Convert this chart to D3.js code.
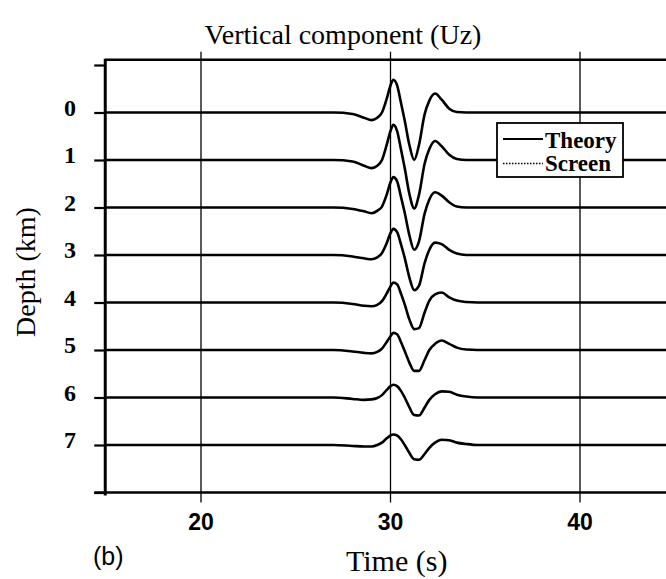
<!DOCTYPE html>
<html><head><meta charset="utf-8">
<script src="https://cdn.jsdelivr.net/npm/d3@7"></script>
<style>body{margin:0;background:#fff}svg{display:block}</style>
</head><body>
<svg id="chart" width="666" height="579"></svg>
<script>
// ---- data ----
const depths = [0, 1, 2, 3, 4, 5, 6, 7];
const depthTicks = [-1, 0, 1, 2, 3, 4, 5, 6, 7, 8];
const depthLabels = ["0", "1", "2", "3", "4", "5", "6", "7"];
const timeTicks = [20, 30, 40];
const timeLabels = ["20", "30", "40"];
// sample times (s) of the traces
const times = [15, 27, 28, 28.6, 29.0, 29.3, 29.55, 29.8, 30.0, 30.15, 30.35, 30.55, 30.75, 31.0, 31.25, 31.5, 31.8, 32.05, 32.35, 32.7, 33.1, 33.5, 34.0, 34.6, 45];
// amplitudes, percent of trace spacing (positive = up)
const amp0 = [0, 0, -3, -11, -16, -11, 0, 29, 57, 69, 57, 21, -17, -69, -100, -69, -4, 25, 40, 27, 8, 1, 0, 0, 0];
const amp1 = [0, 0, -3, -12, -17, -12, 0, 32, 61, 74, 61, 23, -17, -72, -102, -74, -8, 23, 40, 29, 11, 2, 0, 0, 0];
const amp2 = [0, 0, -3, -8, -12, -7, 2, 27, 53, 64, 55, 23, -11, -59, -89, -72, -13, 17, 32, 25, 11, 2, 0, 0, 0];
const amp3 = [0, 0, -3, -7, -9, -5, 4, 25, 46, 55, 48, 23, -6, -48, -74, -65, -17, 11, 26, 23, 11, 3, 0, 0, 0];
const amp4 = [0, 0, -3, -7, -8, -5, 3, 19, 34, 42, 38, 19, -4, -36, -56, -54, -21, 4, 17, 21, 11, 4, 1, 0, 0];
const amp5 = [0, 0, -3, -6, -7, -4, 3, 17, 29, 36, 33, 17, -2, -27, -44, -44, -21, 0, 13, 20, 13, 5, 1, 0, 0];
const amp6 = [0, 0, -3, -5, -4, -1, 5, 16, 24, 27, 24, 14, 0, -21, -37, -38, -21, -5, 7, 13, 12, 6, 2, 0, 0];
const amp7 = [0, 0, -2, -3, -3, 0, 5, 14, 20, 22, 20, 12, 0, -17, -30, -31, -19, -6, 5, 11, 10, 5, 2, 0, 0];
const amplitudes = [amp0, amp1, amp2, amp3, amp4, amp5, amp6, amp7];
const legendLabels = ["Theory", "Screen"];
const titleText = "Vertical component (Uz)";
const xTitle = "Time (s)";
const yTitle = "Depth (km)";
const panelLabel = "(b)";

// ---- layout ----
const svg = d3.select("#chart");
const x = d3.scaleLinear().domain([15, 45]).range([106.25, 674.75]);
const y = d3.scaleLinear().domain([-1, 8]).range([65, 492.5]);
const serif = "'Liberation Serif', 'Times New Roman', serif";
const sans = "'Liberation Sans', Arial, sans-serif";
const frameTop = y(-1.11);
const frameBottom = y(8);
const frameLeft = x(15) - 1;

// vertical grid lines (extend as ticks below the frame)
svg.append("g").selectAll("line").data(timeTicks).join("line")
  .attr("x1", d => x(d)).attr("x2", d => x(d))
  .attr("y1", frameTop - 8).attr("y2", frameBottom + 10)
  .attr("stroke", "#000").attr("stroke-width", 1.3);

// traces
const line = d3.line().curve(d3.curveMonotoneX);
svg.append("g").selectAll("path").data(depths).join("path")
  .attr("d", (dep, k) => line(times.map((t, i) => [x(t), y(dep - amplitudes[k][i] / 100)])))
  .attr("fill", "none").attr("stroke", "#000").attr("stroke-width", 2.6)
  .attr("stroke-linejoin", "round");

// left axis with ticks
const yAxis = d3.axisLeft(y).tickValues(depthTicks).tickSize(11).tickFormat("");
const ya = svg.append("g").attr("transform", `translate(${frameLeft},0)`).call(yAxis);
ya.select(".domain").remove();
ya.selectAll(".tick line").attr("stroke", "#000").attr("stroke-width", 2.2);
svg.append("line").attr("x1", frameLeft).attr("x2", frameLeft)
  .attr("y1", frameTop - 1).attr("y2", frameBottom + 3)
  .attr("stroke", "#000").attr("stroke-width", 3);
// top and bottom borders
svg.append("line").attr("x1", frameLeft).attr("x2", 670).attr("y1", frameTop).attr("y2", frameTop)
  .attr("stroke", "#000").attr("stroke-width", 2.6);
svg.append("line").attr("x1", frameLeft - 11).attr("x2", 670).attr("y1", frameBottom).attr("y2", frameBottom)
  .attr("stroke", "#000").attr("stroke-width", 2.6);

// depth labels
svg.append("g").selectAll("text").data(depths).join("text")
  .attr("x", 76).attr("y", d => y(d) + 3)
  .attr("text-anchor", "end").attr("font-family", serif).attr("font-size", 24)
  .attr("font-weight", "bold").text((d, i) => depthLabels[i]);

// time tick labels
svg.append("g").selectAll("text").data(timeTicks).join("text")
  .attr("x", d => x(d)).attr("y", 530)
  .attr("text-anchor", "middle").attr("font-family", sans).attr("font-size", 23)
  .attr("font-weight", "bold").text((d, i) => timeLabels[i]);

// titles
svg.append("text").attr("x", 343).attr("y", 44).attr("text-anchor", "middle")
  .attr("font-family", serif).attr("font-size", 28).text(titleText);
svg.append("text").attr("x", 346).attr("y", 571)
  .attr("font-family", serif).attr("font-size", 30).text(xTitle);
svg.append("text").attr("transform", "translate(35,272) rotate(-90)").attr("text-anchor", "middle")
  .attr("font-family", serif).attr("font-size", 28).text(yTitle);
svg.append("text").attr("x", 93).attr("y", 565)
  .attr("font-family", sans).attr("font-size", 25).text(panelLabel);

// legend
const lg = svg.append("g");
lg.append("rect").attr("x", 497).attr("y", 123).attr("width", 126).attr("height", 54)
  .attr("fill", "#fff").attr("stroke", "#000").attr("stroke-width", 1.8);
lg.selectAll("line").data(legendLabels).join("line")
  .attr("x1", 503).attr("x2", 543)
  .attr("y1", (d, i) => 139 + i * 24.5).attr("y2", (d, i) => 139 + i * 24.5)
  .attr("stroke", "#000").attr("stroke-width", (d, i) => i === 0 ? 2 : 1.6)
  .attr("stroke-dasharray", (d, i) => i === 0 ? null : "1.5,1.5");
lg.selectAll("text").data(legendLabels).join("text")
  .attr("x", 545).attr("y", (d, i) => 147.5 + i * 23.5)
  .attr("font-family", serif).attr("font-size", 23).attr("font-weight", "bold")
  .text(d => d);
</script>
</body></html>
